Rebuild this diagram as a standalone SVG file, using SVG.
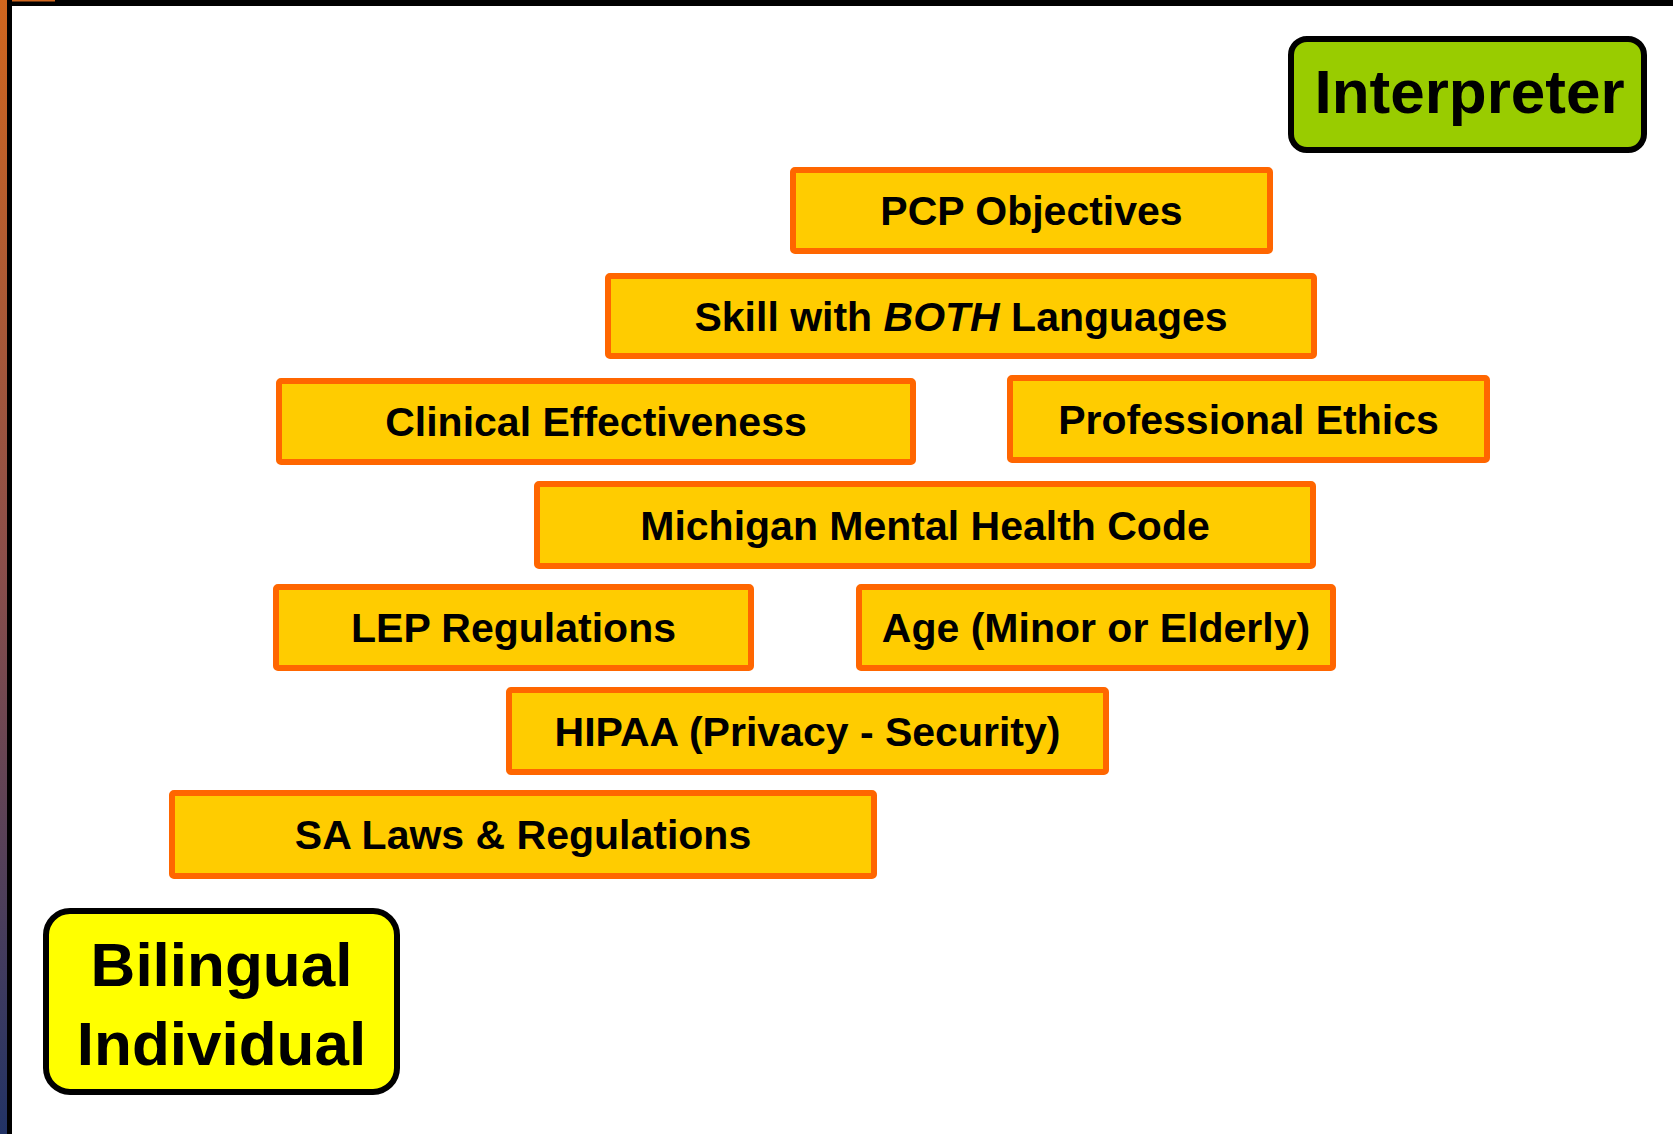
<svg xmlns="http://www.w3.org/2000/svg" width="1673" height="1134" viewBox="0 0 1673 1134">
<defs>
<linearGradient id="edge" x1="0" y1="0" x2="0" y2="1">
<stop offset="0" stop-color="#D0661E"/>
<stop offset="0.5" stop-color="#8A4E4A"/>
<stop offset="1" stop-color="#223366"/>
</linearGradient>
</defs>
<style>
.box{fill:#FFCC00;stroke:#FF6600;stroke-width:6}
.t{font-family:"Liberation Sans",Arial,sans-serif;font-weight:bold;font-size:41px;fill:#000;text-anchor:middle}
.big{font-family:"Liberation Sans",Arial,sans-serif;font-weight:bold;font-size:62px;fill:#000;text-anchor:middle}
</style>
<rect x="0" y="0" width="1673" height="1134" fill="#FFFFFF"/>
<g id="frame">
<rect x="0" y="0" width="1673" height="6" fill="#000"/>
<rect x="0" y="0" width="55" height="1.5" fill="#D0661E"/>
<rect x="0" y="0" width="7" height="1134" fill="url(#edge)"/>
<rect x="7" y="0" width="5" height="1134" fill="#000"/>
</g>
<g id="connectors"></g>
<g id="interpreter">
<rect x="1291" y="39" width="353" height="111" rx="16" fill="#99CC00" stroke="#000" stroke-width="6"/>
<text class="big" x="1469.5" y="113">Interpreter</text>
</g>
<g id="pcp">
<rect class="box" x="793" y="170" width="477" height="81" rx="2"/>
<text class="t" x="1031.5" y="225">PCP Objectives</text>
</g>
<g id="skill">
<rect class="box" x="608" y="276" width="706" height="80" rx="2"/>
<text class="t" x="961" y="330.5">Skill with <tspan font-style="italic">BOTH</tspan> Languages</text>
</g>
<g id="clinical">
<rect class="box" x="279" y="381" width="634" height="81" rx="2"/>
<text class="t" x="596" y="436">Clinical Effectiveness</text>
</g>
<g id="ethics">
<rect class="box" x="1010" y="378" width="477" height="82" rx="2"/>
<text class="t" x="1248.5" y="433.5">Professional Ethics</text>
</g>
<g id="michigan">
<rect class="box" x="537" y="484" width="776" height="82" rx="2"/>
<text class="t" x="925" y="539.5">Michigan Mental Health Code</text>
</g>
<g id="lep">
<rect class="box" x="276" y="587" width="475" height="81" rx="2"/>
<text class="t" x="513.5" y="642">LEP Regulations</text>
</g>
<g id="age">
<rect class="box" x="859" y="587" width="474" height="81" rx="2"/>
<text class="t" x="1096" y="642">Age (Minor or Elderly)</text>
</g>
<g id="hipaa">
<rect class="box" x="509" y="690" width="597" height="82" rx="2"/>
<text class="t" x="807.5" y="745.5">HIPAA (Privacy - Security)</text>
</g>
<g id="sa">
<rect class="box" x="172" y="793" width="702" height="83" rx="2"/>
<text class="t" x="523" y="849">SA Laws &amp; Regulations</text>
</g>
<g id="bilingual">
<rect x="46" y="911" width="351" height="181" rx="24" fill="#FFFF00" stroke="#000" stroke-width="6"/>
<text class="big" x="221.5" y="986">Bilingual</text>
<text class="big" x="221.5" y="1065">Individual</text>
</g>
</svg>
